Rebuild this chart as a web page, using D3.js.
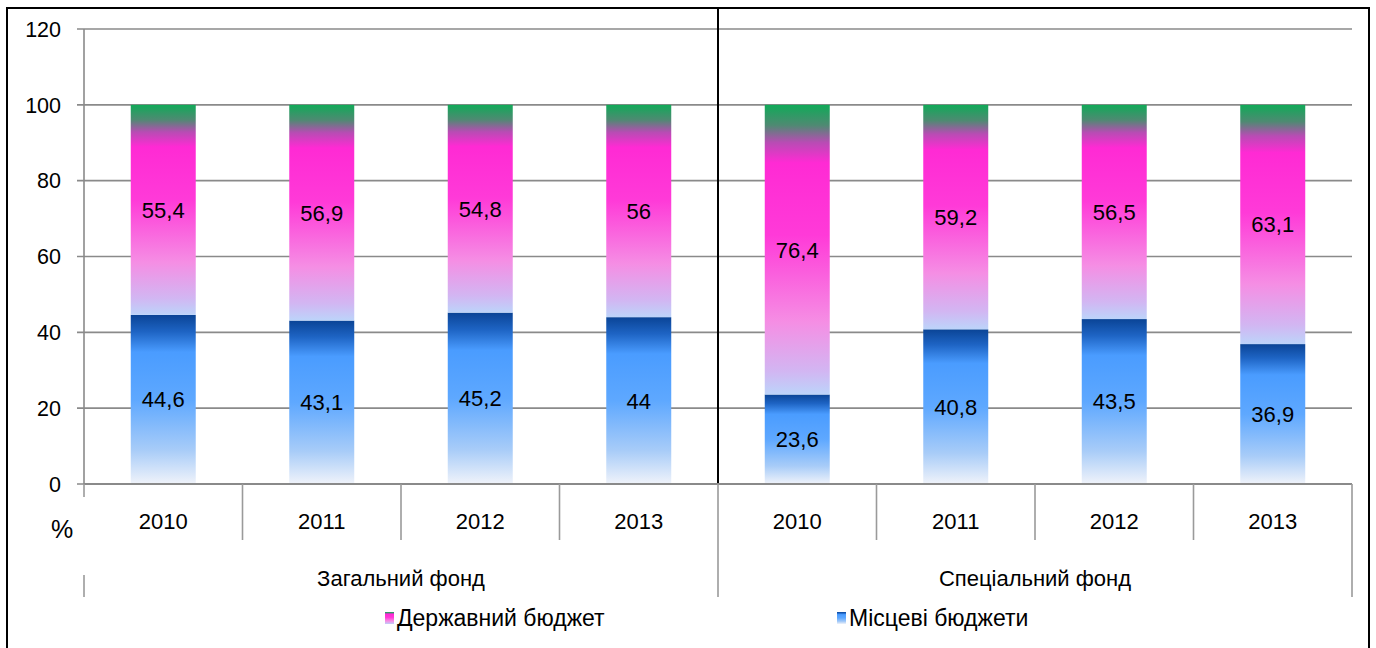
<!DOCTYPE html>
<html>
<head>
<meta charset="utf-8">
<script src="https://cdn.jsdelivr.net/npm/d3@7"></script>
<style>
  body{margin:0;background:#fff;}
  svg{display:block;font-family:"Liberation Sans",Arial,sans-serif;}
</style>
</head>
<body>
<div id="chart"></div>
<script>
const years = ["2010","2011","2012","2013","2010","2011","2012","2013"];
const groups = ["Загальний фонд","Спеціальний фонд"];
const local = [44.6, 43.1, 45.2, 44, 23.6, 40.8, 43.5, 36.9];
const state = [55.4, 56.9, 54.8, 56, 76.4, 59.2, 56.5, 63.1];
const yTicks = [0, 20, 40, 60, 80, 100, 120];
const seriesNames = ["Державний бюджет","Місцеві бюджети"];

const width = 1376, height = 648;
const plotLeft = 84, plotRight = 1352, plotTop = 29, plotBottom = 484;

const svg = d3.select("#chart").append("svg")
    .attr("width",width).attr("height",height);

const defs = svg.append("defs");

const pinkGrad = defs.append("linearGradient").attr("id","gPink")
    .attr("x1",0).attr("y1",0).attr("x2",0).attr("y2",1);
[[0,"#10aa58"],[0.07,"#4e8a72"],[0.13,"#b84cb4"],[0.2,"#ff2ad4"],[0.45,"#ff3ad8"],[0.75,"#f58ee4"],[0.92,"#d2b6f2"],[1,"#bcd4fa"]]
    .forEach(s=>pinkGrad.append("stop").attr("offset",s[0]).attr("stop-color",s[1]));

const blueGrad = defs.append("linearGradient").attr("id","gBlue")
    .attr("x1",0).attr("y1",0).attr("x2",0).attr("y2",1);
[[0,"#0a4496"],[0.1,"#1e64c4"],[0.22,"#4a9cff"],[0.5,"#5ea8ff"],[0.8,"#a8ccf8"],[1,"#f0f3fa"]]
    .forEach(s=>blueGrad.append("stop").attr("offset",s[0]).attr("stop-color",s[1]));

// outer frame
svg.append("rect").attr("x",7).attr("y",8).attr("width",1362).attr("height",660)
    .attr("fill","none").attr("stroke","#000").attr("stroke-width",2);

const idx = d3.range(years.length);
const x = d3.scaleBand().domain(idx).range([plotLeft,plotRight]).paddingInner(0.59).paddingOuter(0.295);
const xc = d3.scaleBand().domain(idx).range([plotLeft,plotRight]);
const y = d3.scaleLinear().domain([0,120]).range([plotBottom,plotTop]);

// grid
svg.append("g").selectAll("line").data(yTicks).enter().append("line")
    .attr("x1",plotLeft-7).attr("x2",plotRight)
    .attr("y1",d=>y(d)).attr("y2",d=>y(d))
    .attr("stroke","#8a8a8a").attr("stroke-width",1.6);

svg.append("line").attr("x1",plotLeft).attr("x2",plotLeft).attr("y1",plotTop).attr("y2",plotBottom)
    .attr("stroke","#8a8a8a").attr("stroke-width",1.6);

svg.append("g").selectAll("text").data(yTicks).enter().append("text")
    .attr("x",61).attr("y",d=>y(d)).attr("dy","0.36em")
    .attr("text-anchor","end").attr("font-size",21.5).text(d=>d);

// stacked bars
const rows = idx.map(i=>({i:i, local:local[i], state:state[i]}));
const stack = d3.stack().keys(["local","state"])(rows);
const fills = {local:"url(#gBlue)", state:"url(#gPink)"};

stack.forEach(layer=>{
    const g = svg.append("g");
    g.selectAll("rect").data(layer).enter().append("rect")
        .attr("x",d=>x(d.data.i)).attr("width",x.bandwidth())
        .attr("y",d=>y(d[1])).attr("height",d=>y(d[0])-y(d[1]))
        .attr("fill",fills[layer.key]);
    g.selectAll("text").data(layer).enter().append("text")
        .attr("x",d=>x(d.data.i)+x.bandwidth()/2)
        .attr("y",d=>(y(d[0])+y(d[1]))/2).attr("dy","0.36em")
        .attr("text-anchor","middle").attr("font-size",22)
        .text(d=>String(d.data[layer.key]).replace(".",","));
});

// black separator
svg.append("line").attr("x1",xc(4)).attr("x2",xc(4)).attr("y1",8).attr("y2",plotBottom)
    .attr("stroke","#000").attr("stroke-width",2);

// category axis
svg.append("line").attr("x1",plotLeft).attr("x2",plotRight).attr("y1",plotBottom).attr("y2",plotBottom)
    .attr("stroke","#8a8a8a").attr("stroke-width",2);

const tickG = svg.append("g").attr("stroke","#9a9a9a").attr("stroke-width",1.6);
idx.slice(1).forEach(i=>{
    const full = i===4;
    tickG.append("line").attr("x1",xc(i)).attr("x2",xc(i))
        .attr("y1",plotBottom).attr("y2",full?597:540);
});
tickG.append("line").attr("x1",plotLeft).attr("x2",plotLeft).attr("y1",plotBottom).attr("y2",497);
tickG.append("line").attr("x1",plotLeft).attr("x2",plotLeft).attr("y1",575).attr("y2",597);
tickG.append("line").attr("x1",plotRight).attr("x2",plotRight).attr("y1",plotBottom).attr("y2",597);

svg.append("g").selectAll("text").data(idx).enter().append("text")
    .attr("x",i=>xc(i)+xc.bandwidth()/2).attr("y",521).attr("dy","0.36em")
    .attr("text-anchor","middle").attr("font-size",22).text(i=>years[i]);

svg.append("g").selectAll("text").data(groups).enter().append("text")
    .attr("x",(d,k)=>(xc(k*4)+xc(k*4+3)+xc.bandwidth())/2).attr("y",578).attr("dy","0.36em")
    .attr("text-anchor","middle").attr("font-size",22).text(d=>d);

svg.append("text").attr("x",62).attr("y",529).attr("dy","0.36em")
    .attr("text-anchor","middle").attr("font-size",25).text("%");

// legend
const legX = [385, 837];
const legFill = ["url(#gPink)","url(#gBlue)"];
seriesNames.forEach((n,k)=>{
    svg.append("rect").attr("x",legX[k]).attr("y",612).attr("width",9).attr("height",12)
        .attr("fill",legFill[k]);
    svg.append("text").attr("x",legX[k]+12).attr("y",618).attr("dy","0.36em")
        .attr("font-size",23).text(n);
});
</script>
</body>
</html>
